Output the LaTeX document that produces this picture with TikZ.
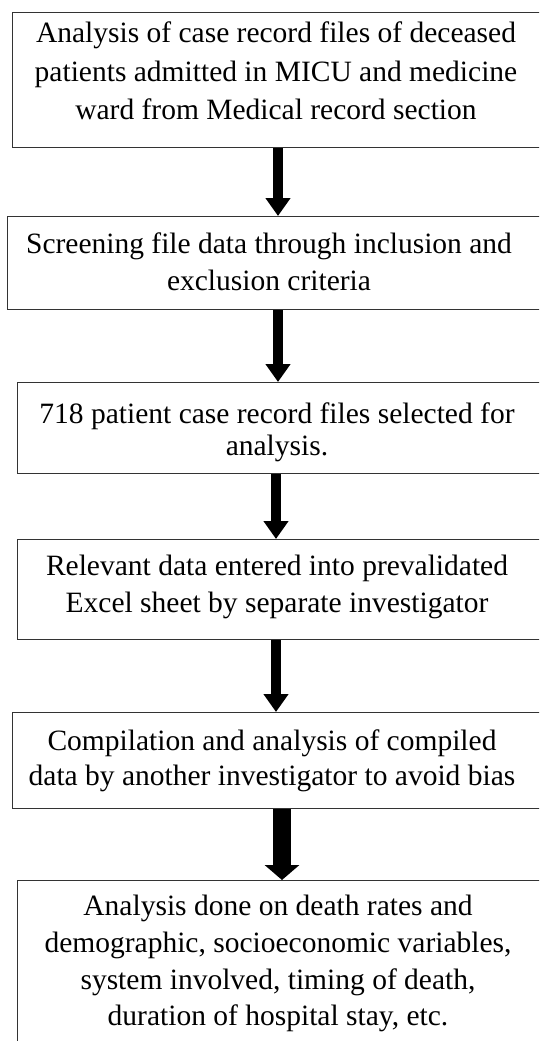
\documentclass[tikz,border=0pt]{standalone}
\usepackage{fontspec}
\setmainfont{Liberation Serif}
\usetikzlibrary{arrows.meta}
\begin{document}
\begin{tikzpicture}[x=1pt,y=-1pt,
  box/.style={draw=black!80, line width=1pt, minimum width=600pt, anchor=north west, inner sep=0pt},
  txt/.style={align=center, inner sep=0pt, anchor=north},
  arr/.style={line width=10pt, -{Triangle[width=24pt,length=18pt]}},
  bigarr/.style={line width=18pt, -{Triangle[width=34pt,length=15pt]}}]
\useasboundingbox (0,0) rectangle (539,1041);
\clip (0,0) rectangle (539,1041);
% boxes
\node[box, minimum height=135pt] (b1) at (12,12) {};
\node[box, minimum height=93pt]  (b2) at (7,216) {};
\node[box, minimum height=91pt]  (b3) at (17,382) {};
\node[box, minimum height=100pt] (b4) at (17,539) {};
\node[box, minimum height=96pt]  (b5) at (12,712) {};
\node[box, minimum height=200pt] (b6) at (17,880) {};
% texts
\node[txt, font=\fontsize{29.5}{38.5}\selectfont] (t1) at (276,22) {Analysis of case record files of deceased\\patients admitted in MICU and medicine\\ward from Medical record section};
\node[txt, font=\fontsize{29.5}{37}\selectfont] (t2) at (269,233) {Screening file data through inclusion and\\exclusion criteria};
\node[txt, font=\fontsize{29.5}{32}\selectfont] (t3) at (277,403) {718 patient case record files selected for\\analysis.};
\node[txt, font=\fontsize{29.5}{37}\selectfont] (t4) at (277,555) {Relevant data entered into prevalidated\\Excel sheet by separate investigator};
\node[txt, font=\fontsize{29.5}{35}\selectfont] (t5) at (272,730) {Compilation and analysis of compiled\\data by another investigator to avoid bias};
\node[txt, font=\fontsize{29.5}{36.7}\selectfont] (t6) at (278,895) {Analysis done on death rates and\\demographic, socioeconomic variables,\\system involved, timing of death,\\duration of hospital stay, etc.};
% arrow axes
\coordinate (x1) at (278,0);
\coordinate (x2) at (278,0);
\coordinate (x3) at (276,0);
\coordinate (x4) at (276,0);
\coordinate (x5) at (282,0);
% arrows
\draw[arr] (x1 |- b1.south) -- (x1 |- b2.north);
\draw[arr] (x2 |- b2.south) -- (x2 |- b3.north);
\draw[arr] (x3 |- b3.south) -- (x3 |- b4.north);
\draw[arr] (x4 |- b4.south) -- (x4 |- b5.north);
\draw[bigarr] (x5 |- b5.south) -- (x5 |- b6.north);
\end{tikzpicture}
\end{document}
